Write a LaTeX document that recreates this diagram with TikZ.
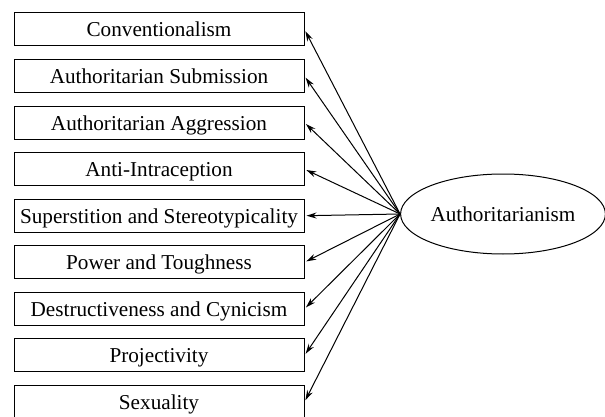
\documentclass[tikz,border=0pt]{standalone}
\usepackage{fontspec}
\setmainfont{Liberation Serif}
\usetikzlibrary{shapes.geometric,arrows.meta}
\begin{document}
\begin{tikzpicture}[x=1pt,y=1pt,
  every node/.style={font=\fontsize{21.2}{25}\selectfont},
  factor/.style={draw,line width=1pt,minimum width=290pt,minimum height=33pt,
    inner sep=0pt,text height=16.5pt,text depth=1.5pt},
  latent/.style={draw,ellipse,line width=1pt,minimum width=204pt,minimum height=80pt,inner sep=0pt},
  load/.style={line width=1pt,-{Stealth[length=10pt,width=6pt]},shorten >=2pt}]
\useasboundingbox (0,0) rectangle (605,-417);
\node[latent] (ell) at (503,-214) {Authoritarianism};
\foreach \i/\t in {1/Conventionalism,
                   2/Authoritarian Submission,
                   3/Authoritarian Aggression,
                   4/Anti-Intraception,
                   5/Superstition and Stereotypicality,
                   6/Power and Toughness,
                   7/Destructiveness and Cynicism,
                   8/Projectivity,
                   9/Sexuality}{
  \node[factor] (b\i) at (159,{-29.5-46.56*(\i-1)}) {\t};
  \draw[load] (ell.west) -- (b\i.east);
}
\end{tikzpicture}
\end{document}
